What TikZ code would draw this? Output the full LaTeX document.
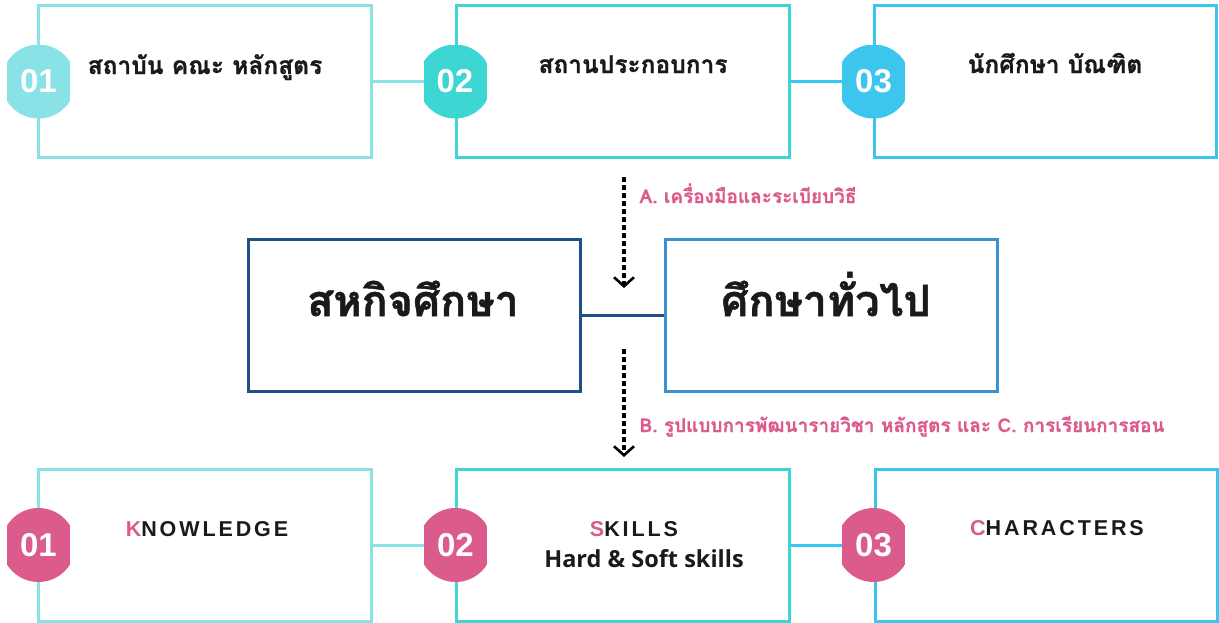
\documentclass[tikz,border=0pt]{standalone}
\usepackage{fontspec}
\setmainfont{Open Sans}
\newfontfamily\thai[Script=Thai]{Loma}
\newfontfamily\numfont{Liberation Sans}
\newfontfamily\capsfont[LetterSpace=13.5]{Liberation Sans}
\usetikzlibrary{arrows.meta}
\definecolor{cLight}{HTML}{88E2E6}
\definecolor{cTeal}{HTML}{3DD6D3}
\definecolor{cSky}{HTML}{3CC6EE}
\definecolor{cDark}{HTML}{1F5187}
\definecolor{cBlue}{HTML}{3B92D3}
\definecolor{cPink}{HTML}{DB5B8C}
\definecolor{cText}{HTML}{1A1A1A}
\tikzset{
  boxnode/.style={draw=#1, line width=3pt, fill=white, minimum width=333pt, minimum height=152pt, inner sep=0pt},
  midbox/.style={draw=#1, line width=3pt, fill=white, minimum width=332pt, minimum height=152pt, inner sep=0pt},
  link/.style={draw=#1, line width=3pt},
  badge/.style={circle, minimum size=74pt, inner sep=0pt, text=white,
    font=\numfont\bfseries\fontsize{33}{33}\selectfont,
    path picture={\fill[#1] ([xshift=-31.5pt]path picture bounding box.south) rectangle ([xshift=31.5pt]path picture bounding box.north);}},
  thaitxt/.style={anchor=base, text=cText, font=\thai\bfseries\fontsize{24.5}{26}\selectfont\addfontfeature{FakeBold=1}},
  bigthai/.style={anchor=base, text=cText, font=\thai\bfseries\fontsize{43}{46}\selectfont\addfontfeature{FakeBold=1.2}},
  labeltxt/.style={anchor=base west, text=cPink, font=\thai\bfseries\fontsize{19}{21}\selectfont\addfontfeature{FakeBold=0.8}},
  engtxt/.style={anchor=base, text=cText, font=\capsfont\bfseries\fontsize{21.5}{23}\selectfont},
  dotarrow/.style={line width=3.4pt, dash pattern=on 5pt off 3pt, -{Straight Barb[length=9pt,width=20pt,line width=2.6pt]}},
}
\begin{document}
\begin{tikzpicture}[x=1pt,y=-1pt]
\useasboundingbox (0,0) rectangle (1219,622);
% top row boxes
\node[boxnode=cLight] (t1) at (204.5,81.5) {};
\node[boxnode=cTeal] (t2) at (622.5,81.5) {};
\node[boxnode=cSky, minimum width=342pt] (t3) at (1045.5,81.5) {};
% top badges positions
\coordinate (tb1pos) at (38.5,81.5);
\coordinate (tb2pos) at (455,81.5);
\coordinate (tb3pos) at (873.5,81.5);
% top connectors
\path[link=cLight] (t1.east) -- (tb2pos);
\path[link=cSky] (t2.east) -- (tb3pos);
% top badges
\node[badge=cLight] (tb1) at (tb1pos) {01};
\node[badge=cTeal] (tb2) at (tb2pos) {02};
\node[badge=cSky] (tb3) at (tb3pos) {03};
% top texts
\node[thaitxt] (tx1) at (205,74) {สถาบัน คณะ หลักสูตร};
\node[thaitxt] (tx2) at (633,73) {สถานประกอบการ};
\node[thaitxt] (tx3) at (1055,73) {นักศึกษา บัณฑิต};
% middle boxes
\node[midbox=cDark] (m1) at (414,315) {};
\node[midbox=cBlue] (m2) at (831,315) {};
\path[link=cDark] (m1.east) -- (m2.west);
\node[bigthai] (mx1) at (413,316) {สหกิจศึกษา};
\node[bigthai] (mx2) at (826,316) {ศึกษาทั่วไป};
% dotted arrows
\coordinate (aS) at (624,177);
\coordinate (aE) at (624,288);
\coordinate (bS) at (624,349);
\coordinate (bE) at (624,457);
\draw[dotarrow] (aS) -- (aE);
\draw[dotarrow] (bS) -- (bE);
\node[labeltxt] (la) at (636,203) {A. เครื่องมือและระเบียบวิธี};
\node[labeltxt] (lb) at (636,432) {B. รูปแบบการพัฒนารายวิชา หลักสูตร และ C. การเรียนการสอน};
% bottom boxes
\node[boxnode=cLight] (b1) at (204.5,545) {};
\node[boxnode=cTeal] (b2) at (622.5,545) {};
\node[boxnode=cSky, minimum width=342pt] (b3) at (1046,545) {};
\coordinate (bb1pos) at (38.5,545);
\coordinate (bb2pos) at (455.5,545);
\coordinate (bb3pos) at (873.5,545);
\path[link=cLight] (b1.east) -- (bb2pos);
\path[link=cSky] (b2.east) -- (bb3pos);
\node[badge=cPink] (bb1) at (bb1pos) {01};
\node[badge=cPink] (bb2) at (bb2pos) {02};
\node[badge=cPink] (bb3) at (bb3pos) {03};
% bottom texts
\node[engtxt] (kx) at (207,536) {\textcolor{cPink}{K}NOWLEDGE};
\node[engtxt] (sx) at (634,536) {\textcolor{cPink}{S}KILLS};
\node[anchor=base, text=cText, font=\bfseries\fontsize{23.5}{25}\selectfont] (hx) at (644,567) {Hard \& Soft skills};
\node[engtxt] (cx) at (1057,535) {\textcolor{cPink}{C}HARACTERS};
\end{tikzpicture}
\end{document}
